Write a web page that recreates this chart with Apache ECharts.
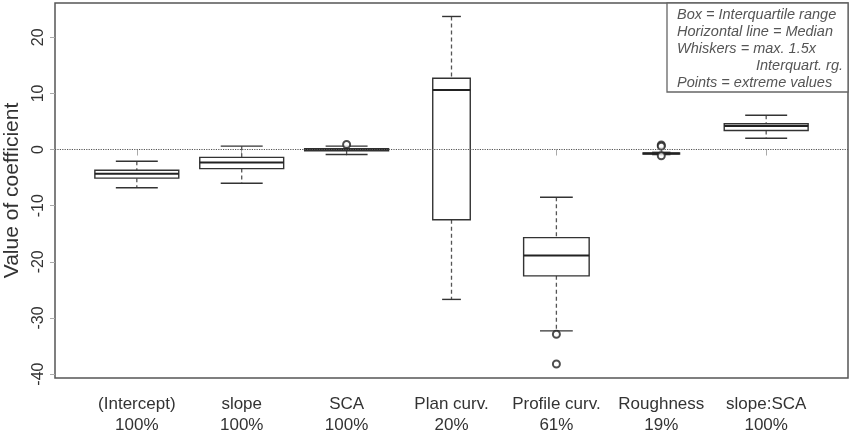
<!DOCTYPE html>
<html>
<head>
<meta charset="utf-8">
<script src="https://cdn.jsdelivr.net/npm/echarts@6/dist/echarts.min.js"></script>
<style>
  html, body { margin: 0; padding: 0; background: #fff; }
  #main { width: 851px; height: 436px; }
</style>
</head>
<body>
<div id="main"></div>
<script>
// coefficient names and share of models where the term was kept
const categories = ['(Intercept)', 'slope', 'SCA', 'Plan curv.', 'Profile curv.', 'Roughness', 'slope:SCA'];
const shares = ['100%', '100%', '100%', '20%', '61%', '19%', '100%'];
const sampleFrac = [1, 1, 1, 0.20, 0.61, 0.19, 1];

// box statistics
const lowWhisker = [-6.8, -6.0, -0.9, -26.7, -32.3, -0.9, 2.0];
const q1 = [-5.1, -3.4, -0.25, -12.5, -22.5, -0.8, 3.4];
const median = [-4.3, -2.3, -0.05, 10.6, -18.9, -0.7, 4.2];
const q3 = [-3.7, -1.4, 0.15, 12.7, -15.7, -0.6, 4.6];
const highWhisker = [-2.1, 0.6, 0.6, 23.7, -8.5, -0.5, 6.1];

// extreme values: [category position, value]
const outliers = [[3, 0.9], [5, -32.9], [5, -38.2], [6, 0.8], [6, 0.6], [6, -1.1]];

const yTicks = [-40, -30, -20, -10, 0, 10, 20];
const xTicks = [1, 2, 3, 4, 5, 6, 7];

const font = 'Liberation Sans, Arial, sans-serif';
const textColor = '#333';

var myChart = echarts.init(document.getElementById('main'));

// box width scales with sqrt of sample share (varwidth)
const boxData = categories.map((c, i) => [i + 1, lowWhisker[i], q1[i], median[i], q3[i], highWhisker[i], Math.sqrt(sampleFrac[i]) * 0.8]);

function renderBox(params, api) {
    const x = api.value(0);
    const half = api.value(6) / 2;
    const lo = api.coord([x, api.value(1)]);
    const b1 = api.coord([x - half, api.value(2)]);
    const md = api.value(3);
    const b3 = api.coord([x + half, api.value(4)]);
    const hi = api.coord([x, api.value(5)]);
    const m1 = api.coord([x - half, md]);
    const m2 = api.coord([x + half, md]);
    const c1 = api.coord([x - half / 2, 0])[0];
    const c2 = api.coord([x + half / 2, 0])[0];
    const dashStyle = { stroke: '#555', lineWidth: 1.3, lineDash: [4, 3] };
    const solid = { stroke: '#333', lineWidth: 1.4 };
    return {
        type: 'group',
        children: [
            { type: 'line', shape: { x1: hi[0], y1: hi[1], x2: hi[0], y2: b3[1] }, style: dashStyle },
            { type: 'line', shape: { x1: lo[0], y1: b1[1], x2: lo[0], y2: lo[1] }, style: dashStyle },
            { type: 'line', shape: { x1: c1, y1: hi[1], x2: c2, y2: hi[1] }, style: solid },
            { type: 'line', shape: { x1: c1, y1: lo[1], x2: c2, y2: lo[1] }, style: solid },
            { type: 'rect', shape: { x: b1[0], y: b3[1], width: b3[0] - b1[0], height: b1[1] - b3[1] },
              style: { fill: '#fff', stroke: '#333', lineWidth: 1.4 } },
            { type: 'line', shape: { x1: m1[0], y1: m1[1], x2: m2[0], y2: m2[1] }, style: { stroke: '#222', lineWidth: 2 } }
        ]
    };
}

const legendLines = ['Box = Interquartile range', 'Horizontal line = Median', 'Whiskers = max. 1.5x', 'Points = extreme values'];
const legendText = { fontSize: 14.5, fontStyle: 'italic', fontFamily: font, fill: '#555' };

var option = {
    animation: false,
    grid: {
        left: 55, right: 3, top: 3, bottom: 58,
        containLabel: false, outerBoundsMode: 'none',
        show: true, borderColor: '#555', borderWidth: 1.5
    },
    xAxis: {
        type: 'value', min: 0.22, max: 7.78,
        axisLine: { show: false },
        splitLine: { show: false },
        axisTick: { show: true, customValues: xTicks, length: 6, lineStyle: { color: '#aaa' } },
        axisLabel: {
            customValues: xTicks,
            formatter: v => categories[Math.round(v) - 1] + '\n' + shares[Math.round(v) - 1],
            fontSize: 17, lineHeight: 21, color: textColor, fontFamily: font, margin: 16
        }
    },
    yAxis: {
        type: 'value', min: -40.7, max: 26.1,
        axisLine: { show: false },
        splitLine: { show: false },
        axisTick: { show: true, customValues: yTicks, length: 5, lineStyle: { color: '#aaa' } },
        axisLabel: { customValues: yTicks, rotate: 90, fontSize: 16, color: textColor, fontFamily: font, margin: 8 },
        name: 'Value of coefficient', nameLocation: 'middle', nameGap: 32, nameMoveOverlap: false,
        nameTextStyle: { fontSize: 21, color: textColor, fontFamily: font }
    },
    series: [
        {
            type: 'custom',
            renderItem: renderBox,
            encode: { x: 0, y: [1, 5] },
            data: boxData,
            z: 2
        },
        {
            type: 'scatter',
            data: outliers,
            symbol: 'emptyCircle',
            symbolSize: 7,
            itemStyle: { color: '#222', borderWidth: 1.5 },
            z: 3,
            markLine: {
                silent: true,
                symbol: ['none', 'none'],
                label: { show: false },
                lineStyle: { type: 'dotted', color: '#555', width: 1.2 },
                data: [{ yAxis: 0 }]
            }
        }
    ],
    graphic: [
        { type: 'rect', shape: { x: 667, y: 3, width: 181, height: 89 }, style: { fill: '#fff', stroke: '#666', lineWidth: 1.3 }, z: 10 },
        { type: 'text', left: 677, top: 7, style: Object.assign({ text: legendLines[0] }, legendText), z: 11 },
        { type: 'text', left: 677, top: 24, style: Object.assign({ text: legendLines[1] }, legendText), z: 11 },
        { type: 'text', left: 677, top: 41, style: Object.assign({ text: legendLines[2] }, legendText), z: 11 },
        { type: 'text', right: 8, top: 58, style: Object.assign({ text: 'Interquart. rg.' }, legendText), z: 11 },
        { type: 'text', left: 677, top: 75, style: Object.assign({ text: legendLines[3] }, legendText), z: 11 }
    ]
};
myChart.setOption(option);
</script>
</body>
</html>
